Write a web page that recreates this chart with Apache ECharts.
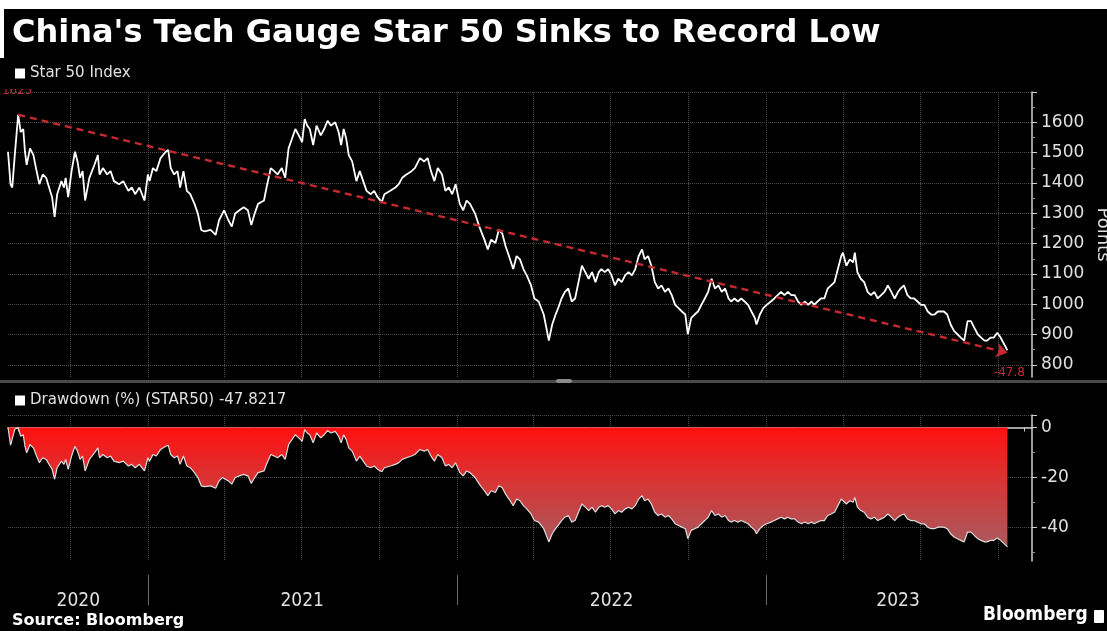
<!DOCTYPE html>
<html>
<head>
<meta charset="utf-8">
<script src="https://cdn.jsdelivr.net/npm/echarts@6/dist/echarts.min.js"></script>
<style>
  html, body { margin: 0; padding: 0; background: #000; }
  #chart { width: 1107px; height: 631px; }
</style>
</head>
<body>
<div id="chart"></div>
<script>
// ---- data ----
const titleText = "China's Tech Gauge Star 50 Sinks to Record Low";
const priceSeriesName = 'Star 50 Index';
const drawdownLabel = 'Drawdown (%) (STAR50)';
const baseDate = '2020-07-20';

// calendar days after baseDate
const dayOffsets = [
  0, 3, 5, 8, 12, 15, 18, 20, 22, 26, 30, 33, 37, 41, 45, 52, 55, 58, 63, 66,
  68, 71, 75, 79, 82, 85, 88, 91, 96, 102, 106, 108, 112, 117, 121, 125, 131, 136, 142, 146,
  150, 155, 161, 165, 167, 171, 175, 180, 186, 189, 192, 196, 200, 203, 207, 211, 215, 220, 224, 228,
  232, 239, 245, 249, 253, 255, 260, 264, 268, 273, 278, 283, 287, 291, 295, 302, 305, 310, 314, 318,
  323, 327, 331, 335, 339, 343, 347, 350, 353, 356, 360, 364, 369, 373, 377, 381, 386, 390, 393, 396,
  399, 402, 406, 411, 415, 419, 423, 428, 432, 436, 441, 444, 451, 457, 461, 465, 470, 476, 480, 486,
  491, 495, 499, 503, 507, 512, 516, 520, 524, 528, 533, 537, 541, 545, 551, 556, 562, 566, 570, 575,
  579, 583, 587, 591, 596, 600, 604, 608, 612, 617, 621, 626, 632, 638, 642, 646, 649, 653, 657, 661,
  665, 669, 673, 677, 681, 685, 689, 693, 697, 700, 704, 708, 712, 716, 720, 724, 728, 732, 736, 740,
  744, 748, 751, 755, 759, 763, 767, 771, 775, 779, 783, 787, 791, 795, 799, 802, 806, 810, 814, 818,
  822, 826, 830, 834, 838, 842, 846, 850, 853, 857, 861, 865, 869, 873, 877, 881, 883, 887, 891, 895,
  900, 904, 908, 912, 916, 920, 924, 928, 932, 936, 940, 944, 948, 951, 955, 959, 963, 967, 971, 975,
  979, 983, 985, 989, 993, 997, 999, 1002, 1006, 1010, 1014, 1018, 1022, 1026, 1030, 1034, 1038, 1042, 1046, 1050,
  1053, 1057, 1061, 1065, 1069, 1073, 1077, 1081, 1085, 1089, 1093, 1097, 1101, 1104, 1108, 1112, 1116, 1120, 1124, 1128,
  1132, 1136, 1140, 1144, 1148, 1152, 1155, 1159, 1163, 1167, 1171, 1175, 1179
];

// Star 50 index closes (points)
const closes = [
  1503, 1396, 1385, 1492, 1625, 1568, 1578, 1503, 1460, 1514, 1492, 1449, 1396, 1428, 1417, 1353, 1288, 1363, 1406, 1385,
  1417, 1353, 1439, 1503, 1471, 1417, 1439, 1342, 1417, 1460, 1492, 1428, 1449, 1428, 1439, 1406, 1396, 1406, 1374, 1385,
  1363, 1385, 1342, 1428, 1406, 1449, 1439, 1482, 1503, 1509, 1449, 1428, 1439, 1385, 1439, 1374, 1363, 1331, 1299, 1245,
  1240, 1245, 1229, 1277, 1299, 1310, 1277, 1256, 1299, 1310, 1320, 1310, 1261, 1299, 1331, 1342, 1385, 1449, 1439, 1428,
  1449, 1417, 1514, 1546, 1578, 1557, 1535, 1611, 1589, 1578, 1525, 1589, 1557, 1578, 1605, 1589, 1600, 1568, 1525, 1578,
  1546, 1492, 1471, 1406, 1439, 1406, 1374, 1363, 1374, 1353, 1337, 1363, 1374, 1385, 1396, 1417, 1428, 1439, 1449, 1482,
  1471, 1482, 1439, 1406, 1449, 1428, 1374, 1385, 1363, 1396, 1331, 1310, 1342, 1331, 1299, 1256, 1213, 1181, 1213, 1202,
  1245, 1234, 1191, 1159, 1116, 1159, 1148, 1116, 1095, 1062, 1019, 1009, 966, 880, 933, 966, 987, 1019, 1041, 1052,
  1009, 1019, 1073, 1127, 1106, 1084, 1106, 1073, 1106, 1116, 1106, 1116, 1095, 1062, 1084, 1073, 1095, 1106, 1095, 1116,
  1159, 1181, 1148, 1159, 1127, 1073, 1052, 1062, 1041, 1052, 1030, 998, 987, 976, 966, 901, 955, 966, 976, 998,
  1019, 1041, 1084, 1052, 1062, 1041, 1052, 1019, 1009, 1019, 1009, 1019, 1009, 998, 976, 955, 933, 966, 987, 998,
  1009, 1019, 1030, 1041, 1030, 1041, 1030, 1030, 1009, 998, 1009, 998, 1009, 998, 1009, 1019, 1019, 1052, 1062, 1073,
  1116, 1159, 1170, 1127, 1148, 1138, 1170, 1106, 1084, 1073, 1041, 1030, 1041, 1019, 1030, 1041, 1062, 1041, 1019, 1041,
  1052, 1062, 1030, 1019, 1019, 1009, 998, 998, 976, 966, 966, 976, 976, 976, 966, 933, 912, 901, 890, 880,
  944, 944, 922, 901, 890, 880, 880, 890, 890, 906, 890, 869, 847.897
];

// dashed trend line: [day, points] at each end
const trendStart = [12, 1625];
const trendEnd = [1179, 840];
const trendEndLabel = '-47.8';

// axis ticks and labels
const priceTicks = [800, 900, 1000, 1100, 1200, 1300, 1400, 1500, 1600, 1700];
const priceLabels = [800, 900, 1000, 1100, 1200, 1300, 1400, 1500, 1600];
const priceMinorTicks = [850, 950, 1050, 1150, 1250, 1350, 1450, 1550, 1650];
const drawdownTicks = [5, 0, -20, -40];
const drawdownLabels = [0, -20, -40];
const drawdownMinorTicks = [-10, -30, -50];
const quarterStarts = ['2020-10-01', '2021-01-01', '2021-04-01', '2021-07-01', '2021-10-01', '2022-01-01',
  '2022-04-01', '2022-07-01', '2022-10-01', '2023-01-01', '2023-04-01', '2023-07-01', '2023-10-01'];
const yearStarts = ['2021-01-01', '2022-01-01', '2023-01-01'];
const yearLabels = ['2020', '2021', '2022', '2023'];
const yearLabelDates = ['2020-10-11', '2021-07-02', '2022-07-02', '2023-06-05'];
const axisStart = '2020-07-20';
const axisEnd = '2023-11-10';

// ---- helpers ----
const DAY = 86400000;
function dt(s) { const p = s.split('-').map(Number); return Date.UTC(p[0], p[1] - 1, p[2]); }
const baseTime = dt(baseDate);
const timeOf = d => baseTime + d * DAY;

const priceData = dayOffsets.map((d, i) => [timeOf(d), closes[i]]);
// drawdown from running peak, in percent
let peak = -Infinity;
const drawdownData = dayOffsets.map((d, i) => {
  peak = Math.max(peak, closes[i]);
  return [timeOf(d), (closes[i] / peak - 1) * 100];
});
const lastDrawdown = drawdownData[drawdownData.length - 1][1];
const drawdownSeriesName = drawdownLabel + ' ' + lastDrawdown.toFixed(4);

// month starts for the small date ticks
const monthStarts = [];
for (let y = 2020, m = 7; y < 2023 || (y === 2023 && m <= 10); m++) {
  if (m > 11) { m = 0; y++; }
  monthStarts.push(Date.UTC(y, m, 1));
}
const yearLabelTimes = yearLabelDates.map(dt);

const FONT = "'DejaVu Sans', sans-serif";
const NARROW = "'DejaVu Sans Condensed', 'DejaVu Sans', sans-serif";
const GRID_LINE = { show: true, lineStyle: { color: '#4d4d4d', type: 'dotted', width: 1 } };
const AXIS_COLOR = '#cfcfcf';
const LABEL_COLOR = '#e0e0e0';
const plain = v => String(v);

// timestamps on a linear axis, so tick positions can be set exactly
const xMin = dt(axisStart), xMax = dt(axisEnd);
const baseX = (grid, extra) => Object.assign({
  type: 'value', gridIndex: grid, min: xMin, max: xMax, position: 'bottom',
  axisLine: { show: false }, axisTick: { show: false }, axisLabel: { show: false }, splitLine: { show: false }
}, extra);

const chart = echarts.init(document.getElementById('chart'), null, { renderer: 'canvas' });

chart.setOption({
  backgroundColor: '#000',
  animation: false,
  textStyle: { fontFamily: FONT },
  title: {
    text: titleText, left: 7, top: 13,
    textStyle: { color: '#fff', fontSize: 32, fontWeight: 'bold', fontFamily: FONT }
  },
  legend: [
    {
      data: [priceSeriesName], left: 15, top: 66, padding: 0, icon: 'rect',
      itemWidth: 10, itemHeight: 10, itemGap: 5, selectedMode: false,
      textStyle: { color: LABEL_COLOR, fontSize: 15, fontFamily: FONT }
    },
    {
      data: [drawdownSeriesName], left: 15, top: 393, padding: 0, icon: 'rect',
      itemWidth: 10, itemHeight: 10, itemGap: 5, selectedMode: false,
      textStyle: { color: LABEL_COLOR, fontSize: 15, fontFamily: FONT }
    }
  ],
  grid: [
    { left: 8, right: 75, top: 92, height: 285, outerBoundsMode: 'none', containLabel: false },
    { left: 8, right: 75, top: 415, height: 146, outerBoundsMode: 'none', containLabel: false }
  ],
  xAxis: [
    baseX(0, { axisTick: { show: false, customValues: quarterStarts.map(dt) }, splitLine: GRID_LINE }),
    baseX(1, {
      axisLine: { show: true, lineStyle: { color: AXIS_COLOR, width: 1.5 } },
      axisTick: { show: true, customValues: monthStarts, length: 4, lineStyle: { color: AXIS_COLOR } }
    }),
    baseX(1, { axisTick: { show: false, customValues: quarterStarts.map(dt) }, splitLine: GRID_LINE }),
    baseX(1, {
      offset: 14,
      axisTick: { show: true, customValues: yearStarts.map(dt), length: 30, lineStyle: { color: '#6a6a6a', width: 1 } },
      axisLabel: {
        show: true, customValues: yearLabelTimes, margin: 17,
        color: LABEL_COLOR, fontSize: 19, fontFamily: NARROW,
        formatter: v => {
          const i = yearLabelTimes.indexOf(v);
          return i >= 0 ? yearLabels[i] : String(new Date(v).getUTCFullYear());
        }
      }
    })
  ],
  yAxis: [
    {
      type: 'value', gridIndex: 0, position: 'right', min: 760, max: 1700,
      axisLine: { show: true, lineStyle: { color: AXIS_COLOR, width: 1.5 } },
      axisTick: { show: true, customValues: priceTicks, length: 5, lineStyle: { color: AXIS_COLOR } },
      axisLabel: { show: true, customValues: priceLabels, margin: 9, color: LABEL_COLOR, fontSize: 17, fontFamily: FONT, formatter: plain },
      splitLine: GRID_LINE,
      name: 'Points', nameLocation: 'middle', nameRotate: -90, nameGap: 62, nameMoveOverlap: false,
      nameTextStyle: { color: LABEL_COLOR, fontSize: 18, fontFamily: FONT }
    },
    {
      type: 'value', gridIndex: 0, position: 'right', min: 760, max: 1700,
      axisLine: { show: false },
      axisTick: { show: true, customValues: priceMinorTicks, length: 3, lineStyle: { color: '#9a9a9a' } },
      axisLabel: { show: false }, splitLine: { show: false }
    },
    {
      type: 'value', gridIndex: 1, position: 'right', min: -53.5, max: 5,
      axisLine: { show: true, lineStyle: { color: AXIS_COLOR, width: 1.5 } },
      axisTick: { show: true, customValues: drawdownTicks, length: 5, lineStyle: { color: AXIS_COLOR } },
      axisLabel: { show: true, customValues: drawdownLabels, margin: 9, color: LABEL_COLOR, fontSize: 17, fontFamily: FONT, formatter: plain },
      splitLine: GRID_LINE
    },
    {
      type: 'value', gridIndex: 1, position: 'right', min: -53.5, max: 5,
      axisLine: { show: false },
      axisTick: { show: true, customValues: drawdownMinorTicks, length: 3, lineStyle: { color: '#9a9a9a' } },
      axisLabel: { show: false }, splitLine: { show: false }
    }
  ],
  series: [
    {
      name: priceSeriesName, type: 'line', xAxisIndex: 0, yAxisIndex: 0,
      data: priceData, showSymbol: false, symbol: 'none',
      itemStyle: { color: '#ffffff' },
      lineStyle: { color: '#ffffff', width: 1.8 },
      z: 3,
      markLine: {
        silent: true, symbol: ['none', 'arrow'], symbolSize: 11,
        lineStyle: { color: '#c42a30', type: [7, 5], width: 2.4 },
        label: { show: false },
        data: [[
          { coord: [timeOf(trendStart[0]), trendStart[1]] },
          { coord: [timeOf(trendEnd[0]), trendEnd[1]] }
        ]]
      },
      markPoint: {
        silent: true, symbol: 'circle', symbolSize: 0,
        data: [
          {
            coord: [timeOf(trendEnd[0]), trendEnd[1]],
            label: { show: true, formatter: trendEndLabel, color: '#c42a30', fontSize: 12, fontFamily: FONT, offset: [2, 20] }
          },
          {
            coord: [timeOf(trendStart[0]), trendStart[1]],
            label: { show: true, formatter: String(trendStart[1]), color: '#c42a30', fontSize: 12, fontFamily: FONT, offset: [-1, -24] }
          }
        ]
      }
    },
    {
      name: drawdownSeriesName, type: 'line', xAxisIndex: 1, yAxisIndex: 2,
      data: drawdownData, showSymbol: false, symbol: 'none',
      itemStyle: { color: '#ffffff' },
      lineStyle: { color: '#dcdcdc', width: 1.2 },
      areaStyle: {
        opacity: 1,
        color: new echarts.graphic.LinearGradient(0, 0, 0, 1, [
          { offset: 0, color: '#ff1010' },
          { offset: 0.45, color: '#d83434' },
          { offset: 1, color: '#a85a5e' }
        ])
      },
      z: 3
    }
  ],
  graphic: [
    // white strip above the black panel
    { type: 'rect', left: 0, top: 0, z: 200, shape: { width: 1107, height: 9 }, style: { fill: '#ffffff' } },
    { type: 'rect', left: 0, top: 0, z: 200, shape: { width: 4, height: 58 }, style: { fill: '#ffffff' } },
    // hides the upper part of the trend start label
    { type: 'rect', left: 0, top: 80, z: 200, shape: { width: 60, height: 9 }, style: { fill: '#000000' } },
    // panel divider
    { type: 'rect', left: 0, top: 380, z: 150, shape: { width: 1107, height: 3 }, style: { fill: '#4a4a4a' } },
    { type: 'rect', left: 556, top: 379, z: 151, shape: { width: 16, height: 4, r: 2 }, style: { fill: '#8a8a8a' } },
    {
      type: 'text', left: 12, top: 613, z: 200,
      style: { text: 'Source: Bloomberg', font: "bold 16px " + FONT, fill: '#ffffff' }
    },
    {
      type: 'text', left: 983, top: 606, z: 200,
      style: { text: 'Bloomberg', font: "bold 19px " + NARROW, fill: '#ffffff' }
    },
    { type: 'rect', left: 1094, top: 610, z: 200, shape: { width: 10, height: 13, r: 1 }, style: { fill: '#ffffff' } }
  ]
});
</script>
</body>
</html>
